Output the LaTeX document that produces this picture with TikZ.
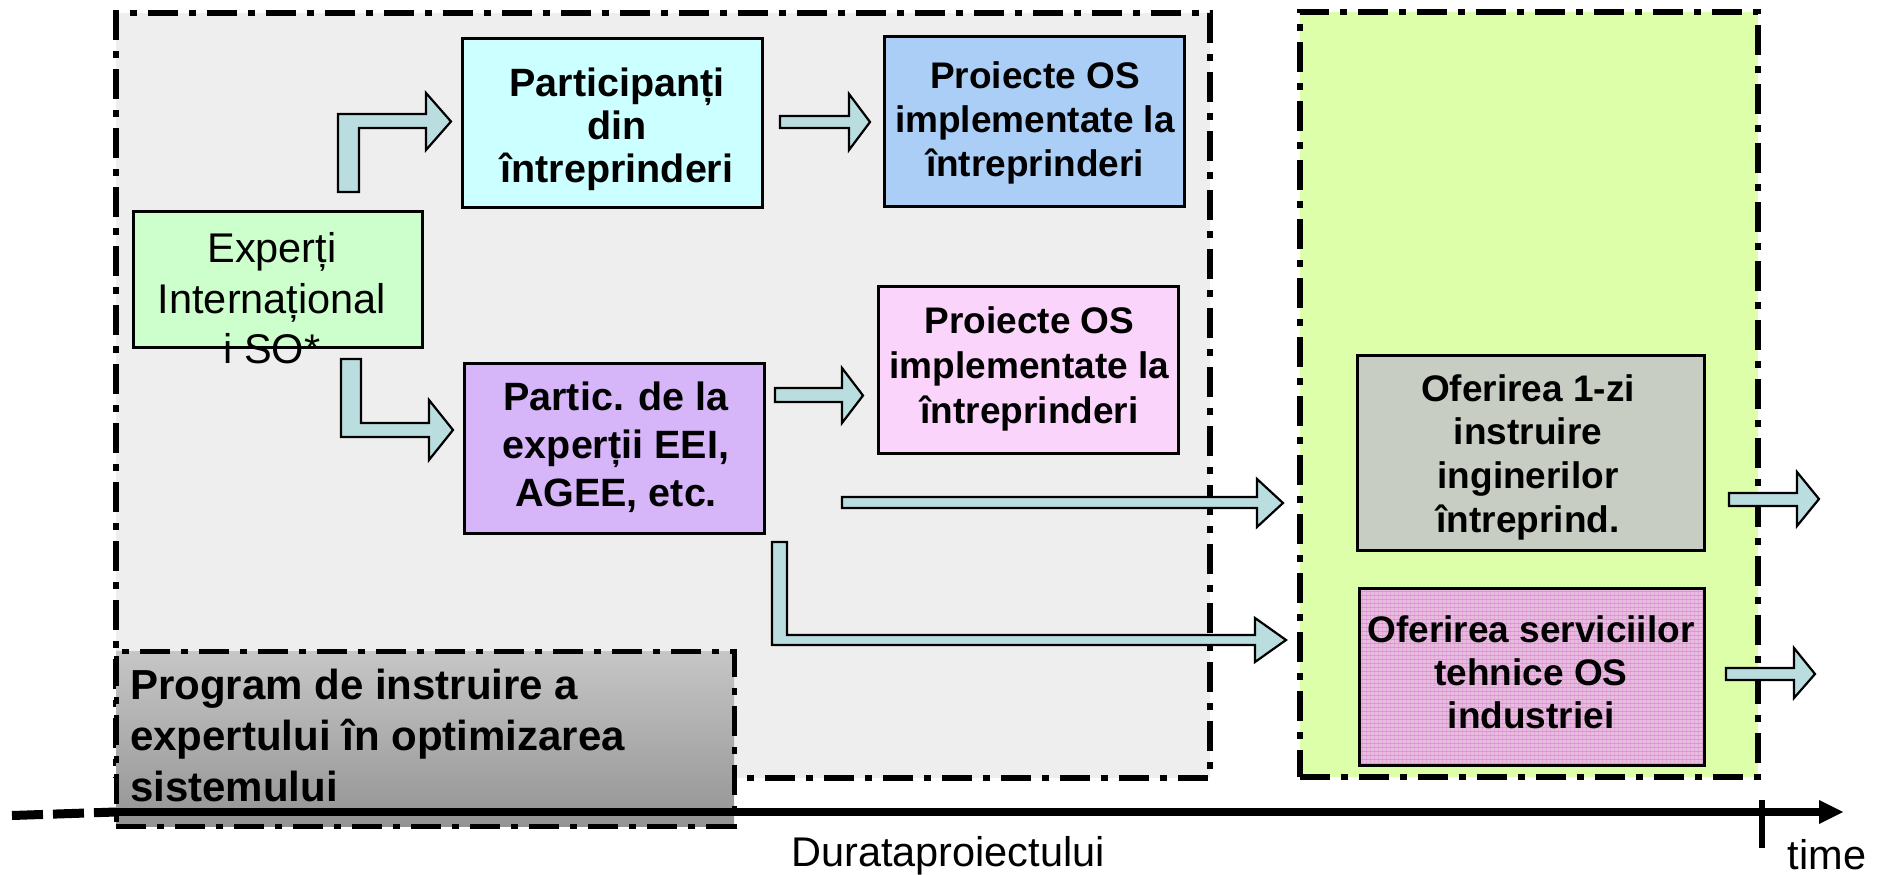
\documentclass[tikz,border=0pt]{standalone}
\usepackage{fontspec}
\setmainfont{Liberation Sans}
\definecolor{regiongray}{RGB}{238,238,238}
\definecolor{regiongreen}{RGB}{222,255,170}
\definecolor{cyanbox}{RGB}{204,255,255}
\definecolor{bluebox}{RGB}{170,206,245}
\definecolor{greenbox}{RGB}{204,255,204}
\definecolor{pinkbox}{RGB}{250,212,250}
\definecolor{purplebox}{RGB}{214,182,249}
\definecolor{graybox}{RGB}{200,205,196}
\definecolor{magbox}{RGB}{228,190,220}
\definecolor{maglines}{RGB}{235,70,215}
\definecolor{arrowfill}{RGB}{186,222,224}
\definecolor{progtop}{RGB}{198,198,198}
\definecolor{progbot}{RGB}{148,148,148}
\begin{document}
\begin{tikzpicture}[x=1pt,y=-1pt,
  regionbox/.style={draw=black, line width=6pt, dash pattern=on 30pt off 11pt on 7pt off 11pt, inner sep=0pt},
  boxstyle/.style={draw=black, line width=3pt, inner sep=0pt},
  blockarrow/.style={draw=black, fill=arrowfill, line width=2.2pt, line join=miter},
  btA/.style={font=\fontsize{39.5}{43}\selectfont\bfseries, align=center, inner sep=0pt, anchor=north},
  btB/.style={font=\fontsize{37}{44}\selectfont\bfseries, align=center, inner sep=0pt, anchor=north},
  rt/.style={font=\fontsize{41.5}{50.7}\selectfont, inner sep=0pt}
]
\useasboundingbox (0,0) rectangle (1885,875);

% phase regions
\node[regionbox, fill=regiongray, minimum width=1094pt, minimum height=765pt] (phase1) at (663,395.5) {};
\node[regionbox, fill=regiongreen, minimum width=458pt, minimum height=765pt] (phase2) at (1529,394.5) {};

% boxes
\node[boxstyle, fill=cyanbox, minimum width=300pt, minimum height=168pt] (partdin) at (612,123) {};
\node[boxstyle, fill=bluebox, minimum width=300pt, minimum height=169pt] (proj1) at (1034,121.5) {};
\node[boxstyle, fill=greenbox, minimum width=289pt, minimum height=136pt] (exp) at (277.5,279) {};
\node[boxstyle, fill=pinkbox, minimum width=300pt, minimum height=167pt] (proj2) at (1028,369.5) {};
\node[boxstyle, fill=purplebox, minimum width=300pt, minimum height=170pt] (partic) at (614,448) {};
\node[boxstyle, fill=graybox, minimum width=347pt, minimum height=195pt] (ofer1) at (1530.5,452.5) {};
\node[fill=magbox, inner sep=0pt, minimum width=344pt, minimum height=176pt] (ofer2) at (1532,677) {};
\begin{scope}
  \clip (ofer2.north west) rectangle (ofer2.south east);
  \foreach \yy in {591,595,...,767} \draw[maglines, line width=0.8pt, opacity=0.35] (1360,\yy) -- (1704,\yy);
  \foreach \xx in {1362,1366,...,1704} \draw[maglines, line width=0.6pt, opacity=0.2] (\xx,589) -- (\xx,765);
\end{scope}
\draw[line width=3pt] (ofer2.north west) rectangle (ofer2.south east);

% program box
\node[regionbox, line width=5pt, top color=progtop, bottom color=progbot, minimum width=618pt, minimum height=175pt] (prog) at (425,738.5) {};

% block arrows
\draw[blockarrow] (338,192) -- (338,114) -- (426,114) -- (426,93) -- (451,121.5) -- (426,150) -- (426,128) -- (359,128) -- (359,192) -- cycle;
\draw[blockarrow] (780,116) -- (849,116) -- (849,94) -- (870,122) -- (849,150) -- (849,128) -- (780,128) -- cycle;
\draw[blockarrow] (341,359) -- (361,359) -- (361,423) -- (429,423) -- (429,400) -- (453,430) -- (429,460) -- (429,437) -- (341,437) -- cycle;
\draw[blockarrow] (775,388) -- (842,388) -- (842,368) -- (863,395.5) -- (842,423) -- (842,402) -- (775,402) -- cycle;
\draw[blockarrow] (842,497) -- (1257,497) -- (1257,479) -- (1283,503) -- (1257,527) -- (1257,508) -- (842,508) -- cycle;
\draw[blockarrow] (772,542) -- (787,542) -- (787,635) -- (1255,635) -- (1255,618) -- (1286,640) -- (1255,662) -- (1255,645) -- (772,645) -- cycle;
\draw[blockarrow] (1729,493) -- (1797,493) -- (1797,472) -- (1819,499) -- (1797,526) -- (1797,506) -- (1729,506) -- cycle;
\draw[blockarrow] (1726,668) -- (1794,668) -- (1794,648) -- (1815,674) -- (1794,698) -- (1794,680) -- (1726,680) -- cycle;

% timeline
\coordinate (tl0) at (12,815.5);
\coordinate (tl1) at (116,812);
\coordinate (tl2) at (1821,812);
\coordinate (tltip) at (1843,812);
\draw[line width=9pt, dash pattern=on 31pt off 10pt] (tl0) -- (tl1);
\draw[line width=8pt] (tl1) -- (tl2);
\fill (1819,800) -- (tltip) -- (1819,824) -- cycle;
\draw[line width=6pt] (1762,800) -- (1762,848);

% texts
\node[btA] (partdin-t) at (617,67.2) {Participanți\\din\\întreprinderi};
\node[btB] (proj1-t) at (1035,61.3) {Proiecte OS\\implementate la\\întreprinderi};
\node[btB, font=\fontsize{37}{45}\selectfont\bfseries] (proj2-t) at (1029.5,306) {Proiecte OS\\implementate la\\întreprinderi};
\node[btA, font=\fontsize{39.5}{47.6}\selectfont\bfseries] (partic-t) at (616,382) {Partic. de la\\experții EEI,\\AGEE, etc.};
\node[btB, font=\fontsize{37}{43.7}\selectfont\bfseries] (ofer1-t) at (1528,374) {Oferirea 1-zi\\instruire\\inginerilor\\întreprind.};
\node[btB, font=\fontsize{37}{43}\selectfont\bfseries] (ofer2-t) at (1531,615) {Oferirea serviciilor\\tehnice OS\\industriei};
\node[rt, align=center, anchor=north] (exp-t) at (272,232.3) {Experți\\Internațional\\i SO*};
\node[font=\fontsize{42}{50.7}\selectfont\bfseries, align=left, anchor=north west, inner sep=0pt] (prog-t) at (130,669.3) {Program de instruire a\\expertului în optimizarea\\sistemului};
\node[rt, anchor=base] (durata) at (948,866) {Durataproiectului};
\node[rt, anchor=base] (time) at (1827,869) {time};
\end{tikzpicture}
\end{document}
